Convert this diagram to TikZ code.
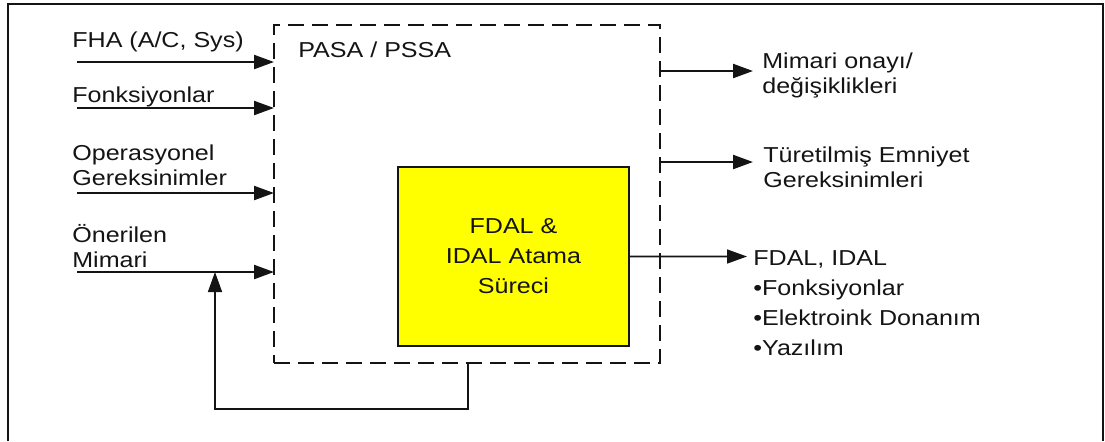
\documentclass[tikz,border=0pt]{standalone}
\usepackage{fontspec}
\setmainfont[FakeStretch=1.16]{Liberation Sans}
\usetikzlibrary{positioning,arrows.meta}
\definecolor{sari}{RGB}{255,255,0}
\definecolor{cizgi}{RGB}{20,20,20}

\begin{document}
\begin{tikzpicture}[x=0.02cm, y=-0.02cm,
  etiket/.style={font=\fontsize{12.3}{14.2}\selectfont, align=left,
                 inner sep=0pt, anchor=base west, text=cizgi},
  ok/.style={-{Triangle[length=0.4cm, width=0.28cm]}, line width=1.3pt, color=cizgi},
  ince/.style={-{Triangle[length=0.4cm, width=0.28cm]}, line width=0.9pt, color=cizgi}]
  \useasboundingbox (0,0) rectangle (1105,441);
  % Cerceve
  \draw[line width=0.7pt, cizgi] (8,441) -- (8,4) -- (1103,4) -- (1103,441);
  % PASA / PSSA
  \node[draw=cizgi, dash pattern=on 0.32cm off 0.16cm, line width=1.5pt,
        minimum width=7.72cm, minimum height=6.76cm, anchor=north west,
        inner sep=0pt, outer sep=0pt] (pasa) at (274,25) {};
  \node[etiket] (pasaad) at (298,57) {PASA / PSSA};
  \node[draw=cizgi, fill=sari, line width=1.2pt, minimum width=4.62cm,
        minimum height=3.58cm, anchor=north west, outer sep=0pt, align=center,
        text=cizgi, font=\fontsize{12.3}{17}\selectfont] (fdal) at (398,167)
       {FDAL \&\\IDAL Atama\\Süreci};
  % Girdiler
  \foreach \ad/\yy/\ey [count=\i] in {{FHA (A/C, Sys)}/62/47,
      {Fonksiyonlar}/108/102, {Operasyonel\\Gereksinimler}/193/185,
      {Önerilen\\Mimari}/272/267}{
    \coordinate (g\i) at (77,\yy);
    \node[etiket] (ge\i) at (72,\ey) {\ad};
    \draw[ok] (g\i) -- (g\i -| pasa.west);
  }
  % Geri besleme
  \coordinate (gk) at (468,409);
  \coordinate (gs) at (215,409);
  \draw[ince] (pasa.south -| gk) -- (gk) -- (gs) -- (gs |- g4);
  % Ciktilar
  \coordinate (c1) at (753,71);
  \coordinate (c2) at (753,162);
  \coordinate (c3) at (747,256.5);
  \draw[ok] (c1 -| pasa.east) -- (c1);
  \draw[ok] (c2 -| pasa.east) -- (c2);
  \draw[ince] (fdal.east) -- (c3);
  \node[etiket] (ck1) at (762,93) {Mimari onayı/\\değişiklikleri};
  \node[etiket] (ck2) at (763,187) {Türetilmiş Emniyet\\Gereksinimleri};
  \node[etiket, font=\fontsize{12.3}{17}\selectfont] (ck3) at (753,355)
       {FDAL, IDAL\\•Fonksiyonlar\\•Elektroink Donanım\\•Yazılım};
\end{tikzpicture}
\end{document}
